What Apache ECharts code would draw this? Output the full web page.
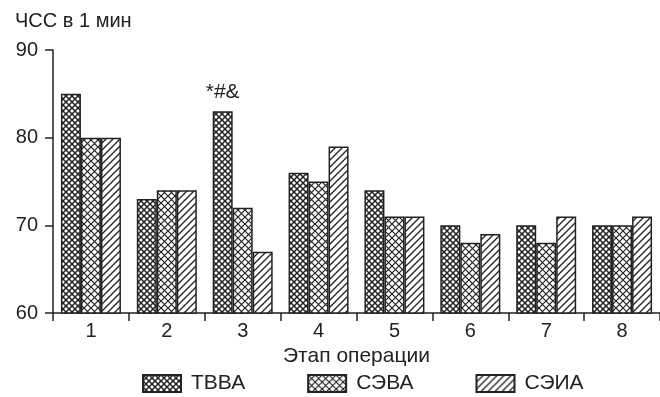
<!DOCTYPE html>
<html>
<head>
<meta charset="utf-8">
<script src="https://cdn.jsdelivr.net/npm/echarts@6/dist/echarts.min.js"></script>
<style>
  html, body { margin: 0; padding: 0; background: #fff; }
  #chart { width: 660px; height: 397px; }
</style>
</head>
<body>
<div id="chart"></div>
<script>
// Chart data
const stages = ['1', '2', '3', '4', '5', '6', '7', '8'];
const seriesNames = ['ТВВА', 'СЭВА', 'СЭИА'];
const tvva = [85, 73, 83, 76, 74, 70, 70, 70];
const seva = [80, 74, 72, 75, 71, 68, 68, 70];
const seia = [80, 74, 67, 79, 71, 69, 71, 71];
const yTicks = [60, 70, 80, 90];
const markText = '*#&';
const markStage = 2; // index of stage "3"

const FONT = 'Liberation Sans, Arial, sans-serif';
const INK = '#222';

// Pattern helpers
function crossPattern(size, lw) {
    const c = document.createElement('canvas');
    c.width = size; c.height = size;
    const ctx = c.getContext('2d');
    ctx.fillStyle = '#fff';
    ctx.fillRect(0, 0, size, size);
    ctx.strokeStyle = INK;
    ctx.lineWidth = lw;
    ctx.beginPath();
    ctx.moveTo(-1, -1); ctx.lineTo(size + 1, size + 1);
    ctx.moveTo(-1, size + 1); ctx.lineTo(size + 1, -1);
    ctx.stroke();
    return c;
}

function hatchPattern(size, lw) {
    const c = document.createElement('canvas');
    c.width = size; c.height = size;
    const ctx = c.getContext('2d');
    ctx.fillStyle = '#fff';
    ctx.fillRect(0, 0, size, size);
    ctx.strokeStyle = INK;
    ctx.lineWidth = lw;
    ctx.beginPath();
    ctx.moveTo(-1, size + 1); ctx.lineTo(size + 1, -1);
    ctx.moveTo(-2, 2); ctx.lineTo(2, -2);
    ctx.moveTo(size - 2, size + 2); ctx.lineTo(size + 2, size - 2);
    ctx.stroke();
    return c;
}

const patterns = [
    { image: crossPattern(6, 1.5), repeat: 'repeat' },
    { image: crossPattern(7, 1.2), repeat: 'repeat' },
    { image: hatchPattern(7, 1.3), repeat: 'repeat' }
];

const values = [tvva, seva, seia];

const chart = echarts.init(document.getElementById('chart'), null, { renderer: 'canvas' });

const series = values.map((vals, i) => ({
    name: seriesNames[i],
    type: 'bar',
    barWidth: 20,
    barGap: '0%',
    itemStyle: { color: patterns[i], borderColor: INK, borderWidth: 1.5 },
    emphasis: { disabled: true },
    data: vals.map((v, j) => {
        if (i === 0 && j === markStage) {
            return {
                value: v,
                label: {
                    show: true, position: 'top', distance: 9,
                    formatter: markText, fontFamily: FONT, fontSize: 21, color: INK
                }
            };
        }
        return v;
    })
}));

chart.setOption({
    animation: false,
    backgroundColor: '#fff',
    title: {
        text: 'ЧСС в 1 мин',
        left: 10, top: 6,
        textStyle: { fontFamily: FONT, fontSize: 20, fontWeight: 'normal', color: INK }
    },
    legend: {
        data: seriesNames,
        top: 368, left: 137,
        icon: 'rect',
        itemWidth: 38, itemHeight: 17, itemGap: 62,
        textStyle: { fontFamily: FONT, fontSize: 21, color: INK, padding: [0, 0, 0, 5] },
        selectedMode: false
    },
    grid: { left: 53, right: 0, top: 50, bottom: 84 },
    xAxis: {
        type: 'category',
        data: stages,
        name: 'Этап операции',
        nameLocation: 'middle',
        nameGap: 32,
        nameTextStyle: { fontFamily: FONT, fontSize: 21, color: INK },
        axisLine: { lineStyle: { color: INK, width: 1.5 } },
        axisTick: { show: true, length: 8, lineStyle: { color: INK, width: 1.5 } },
        axisLabel: { fontFamily: FONT, fontSize: 20, color: INK, margin: 8 }
    },
    yAxis: {
        type: 'value',
        min: yTicks[0],
        max: yTicks[yTicks.length - 1],
        interval: 10,
        splitLine: { show: false },
        axisLine: { show: true, lineStyle: { color: INK, width: 1.5 } },
        axisTick: { show: true, length: 8, lineStyle: { color: INK, width: 1.5 } },
        axisLabel: { fontFamily: FONT, fontSize: 20, color: INK, margin: 15 }
    },
    series: series
});
</script>
</body>
</html>
